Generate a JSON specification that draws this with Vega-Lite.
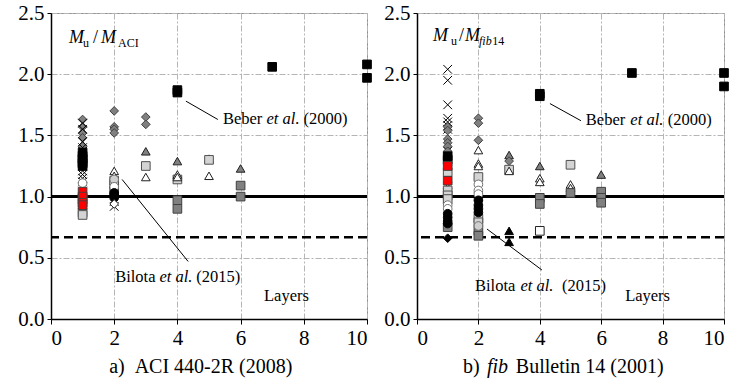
{
  "$schema": "https://vega.github.io/schema/vega-lite/v6.json",
  "background": "white",
  "padding": {"left": 17, "top": 1, "right": 5, "bottom": 5},
  "spacing": 9,
  "config": {
    "view": {"stroke": "#909090", "strokeWidth": 1},
    "font": "Liberation Serif, Times New Roman, serif",
    "text": {"font": "Liberation Serif, Times New Roman, serif"},
    "axis": {"labelFont": "Liberation Serif, Times New Roman, serif", "labelFontSize": 21, "labelColor": "black", "domainColor": "black", "domainWidth": 1.5, "tickColor": "black", "tickSize": 5, "gridColor": "#b5b5b5", "gridDash": [6, 2, 2, 2], "gridWidth": 1, "title": null}
  },
  "datasets": {
    "pts": [
      {"panel": "a", "layers": 1, "ratio": 1.63, "type": "gd"},
      {"panel": "a", "layers": 1, "ratio": 1.57, "type": "gd"},
      {"panel": "a", "layers": 1, "ratio": 1.52, "type": "gd"},
      {"panel": "a", "layers": 1, "ratio": 1.48, "type": "gd"},
      {"panel": "a", "layers": 1, "ratio": 1.41, "type": "gd"},
      {"panel": "a", "layers": 1, "ratio": 1.6, "type": "x"},
      {"panel": "a", "layers": 1, "ratio": 1.55, "type": "x"},
      {"panel": "a", "layers": 1, "ratio": 1.45, "type": "x"},
      {"panel": "a", "layers": 1, "ratio": 1.4, "type": "x"},
      {"panel": "a", "layers": 1, "ratio": 1.37, "type": "x"},
      {"panel": "a", "layers": 1, "ratio": 1.33, "type": "x"},
      {"panel": "a", "layers": 1, "ratio": 1.29, "type": "x"},
      {"panel": "a", "layers": 1, "ratio": 1.25, "type": "x"},
      {"panel": "a", "layers": 1, "ratio": 1.21, "type": "x"},
      {"panel": "a", "layers": 1, "ratio": 1.18, "type": "x"},
      {"panel": "a", "layers": 1, "ratio": 1.15, "type": "x"},
      {"panel": "a", "layers": 1, "ratio": 1.12, "type": "x"},
      {"panel": "a", "layers": 1, "ratio": 0.98, "type": "x"},
      {"panel": "a", "layers": 1, "ratio": 1.36, "type": "bs"},
      {"panel": "a", "layers": 1, "ratio": 1.33, "type": "bs"},
      {"panel": "a", "layers": 1, "ratio": 1.31, "type": "bs"},
      {"panel": "a", "layers": 1, "ratio": 1.29, "type": "bs"},
      {"panel": "a", "layers": 1, "ratio": 1.27, "type": "bs"},
      {"panel": "a", "layers": 1, "ratio": 1.25, "type": "bs"},
      {"panel": "a", "layers": 1, "ratio": 1.11, "type": "wc"},
      {"panel": "a", "layers": 1, "ratio": 0.98, "type": "lgs"},
      {"panel": "a", "layers": 1, "ratio": 0.87, "type": "lgs"},
      {"panel": "a", "layers": 1, "ratio": 0.85, "type": "lgs"},
      {"panel": "a", "layers": 1, "ratio": 1.04, "type": "rs"},
      {"panel": "a", "layers": 1, "ratio": 1.0, "type": "rs"},
      {"panel": "a", "layers": 1, "ratio": 0.95, "type": "rs"},
      {"panel": "a", "layers": 1, "ratio": 0.93, "type": "rs"},
      {"panel": "a", "layers": 2, "ratio": 1.7, "type": "gd"},
      {"panel": "a", "layers": 2, "ratio": 1.57, "type": "gd"},
      {"panel": "a", "layers": 2, "ratio": 1.55, "type": "gd"},
      {"panel": "a", "layers": 2, "ratio": 1.52, "type": "gd"},
      {"panel": "a", "layers": 2, "ratio": 1.06, "type": "x"},
      {"panel": "a", "layers": 2, "ratio": 1.04, "type": "x"},
      {"panel": "a", "layers": 2, "ratio": 0.96, "type": "x"},
      {"panel": "a", "layers": 2, "ratio": 0.92, "type": "x"},
      {"panel": "a", "layers": 2, "ratio": 1.05, "type": "dgs"},
      {"panel": "a", "layers": 2, "ratio": 1.21, "type": "wt"},
      {"panel": "a", "layers": 2, "ratio": 1.17, "type": "wt"},
      {"panel": "a", "layers": 2, "ratio": 1.13, "type": "lgs"},
      {"panel": "a", "layers": 2, "ratio": 1.1, "type": "lgs"},
      {"panel": "a", "layers": 2, "ratio": 1.14, "type": "lgc"},
      {"panel": "a", "layers": 2, "ratio": 1.08, "type": "wc"},
      {"panel": "a", "layers": 2, "ratio": 1.03, "type": "bc"},
      {"panel": "a", "layers": 2, "ratio": 1.01, "type": "bc"},
      {"panel": "a", "layers": 2, "ratio": 0.99, "type": "bc"},
      {"panel": "a", "layers": 2, "ratio": 0.94, "type": "wd"},
      {"panel": "a", "layers": 3, "ratio": 1.65, "type": "gd"},
      {"panel": "a", "layers": 3, "ratio": 1.59, "type": "gd"},
      {"panel": "a", "layers": 3, "ratio": 1.37, "type": "dgt"},
      {"panel": "a", "layers": 3, "ratio": 1.25, "type": "lgs"},
      {"panel": "a", "layers": 3, "ratio": 1.16, "type": "wt"},
      {"panel": "a", "layers": 4, "ratio": 1.87, "type": "bs"},
      {"panel": "a", "layers": 4, "ratio": 1.85, "type": "bs"},
      {"panel": "a", "layers": 4, "ratio": 1.29, "type": "dgt"},
      {"panel": "a", "layers": 4, "ratio": 1.14, "type": "lgs"},
      {"panel": "a", "layers": 4, "ratio": 1.18, "type": "wt"},
      {"panel": "a", "layers": 4, "ratio": 1.16, "type": "wt"},
      {"panel": "a", "layers": 4, "ratio": 0.97, "type": "dgs"},
      {"panel": "a", "layers": 4, "ratio": 0.9, "type": "dgs"},
      {"panel": "a", "layers": 5, "ratio": 1.31, "type": "dgt"},
      {"panel": "a", "layers": 5, "ratio": 1.3, "type": "lgs"},
      {"panel": "a", "layers": 5, "ratio": 1.17, "type": "wt"},
      {"panel": "a", "layers": 6, "ratio": 1.23, "type": "dgt"},
      {"panel": "a", "layers": 6, "ratio": 1.09, "type": "dgs"},
      {"panel": "a", "layers": 6, "ratio": 1.0, "type": "dgs"},
      {"panel": "a", "layers": 7, "ratio": 2.06, "type": "bs"},
      {"panel": "a", "layers": 10, "ratio": 2.08, "type": "bs"},
      {"panel": "a", "layers": 10, "ratio": 1.97, "type": "bs"},

      {"panel": "b", "layers": 1, "ratio": 2.04, "type": "x"},
      {"panel": "b", "layers": 1, "ratio": 1.95, "type": "x"},
      {"panel": "b", "layers": 1, "ratio": 1.75, "type": "x"},
      {"panel": "b", "layers": 1, "ratio": 1.64, "type": "x"},
      {"panel": "b", "layers": 1, "ratio": 1.61, "type": "x"},
      {"panel": "b", "layers": 1, "ratio": 1.58, "type": "x"},
      {"panel": "b", "layers": 1, "ratio": 1.55, "type": "x"},
      {"panel": "b", "layers": 1, "ratio": 1.37, "type": "x"},
      {"panel": "b", "layers": 1, "ratio": 1.22, "type": "x"},
      {"panel": "b", "layers": 1, "ratio": 1.08, "type": "x"},
      {"panel": "b", "layers": 1, "ratio": 1.03, "type": "x"},
      {"panel": "b", "layers": 1, "ratio": 0.98, "type": "x"},
      {"panel": "b", "layers": 1, "ratio": 1.57, "type": "gd"},
      {"panel": "b", "layers": 1, "ratio": 1.54, "type": "gd"},
      {"panel": "b", "layers": 1, "ratio": 1.47, "type": "gd"},
      {"panel": "b", "layers": 1, "ratio": 1.44, "type": "gd"},
      {"panel": "b", "layers": 1, "ratio": 1.41, "type": "gd"},
      {"panel": "b", "layers": 1, "ratio": 1.37, "type": "gd"},
      {"panel": "b", "layers": 1, "ratio": 1.33, "type": "bs"},
      {"panel": "b", "layers": 1, "ratio": 1.3, "type": "bs"},
      {"panel": "b", "layers": 1, "ratio": 1.2, "type": "lgs"},
      {"panel": "b", "layers": 1, "ratio": 1.05, "type": "lgs"},
      {"panel": "b", "layers": 1, "ratio": 1.01, "type": "lgs"},
      {"panel": "b", "layers": 1, "ratio": 0.98, "type": "lgs"},
      {"panel": "b", "layers": 1, "ratio": 1.25, "type": "rs"},
      {"panel": "b", "layers": 1, "ratio": 1.13, "type": "rs"},
      {"panel": "b", "layers": 1, "ratio": 0.93, "type": "wc"},
      {"panel": "b", "layers": 1, "ratio": 0.9, "type": "wc"},
      {"panel": "b", "layers": 1, "ratio": 0.75, "type": "dgs"},
      {"panel": "b", "layers": 1, "ratio": 0.86, "type": "bc"},
      {"panel": "b", "layers": 1, "ratio": 0.83, "type": "bc"},
      {"panel": "b", "layers": 1, "ratio": 0.8, "type": "bc"},
      {"panel": "b", "layers": 1, "ratio": 0.78, "type": "bc"},
      {"panel": "b", "layers": 1, "ratio": 0.66, "type": "bd"},
      {"panel": "b", "layers": 2, "ratio": 1.64, "type": "gd"},
      {"panel": "b", "layers": 2, "ratio": 1.6, "type": "gd"},
      {"panel": "b", "layers": 2, "ratio": 1.46, "type": "gd"},
      {"panel": "b", "layers": 2, "ratio": 1.38, "type": "wt"},
      {"panel": "b", "layers": 2, "ratio": 1.27, "type": "wt"},
      {"panel": "b", "layers": 2, "ratio": 1.25, "type": "wt"},
      {"panel": "b", "layers": 2, "ratio": 1.0, "type": "x"},
      {"panel": "b", "layers": 2, "ratio": 0.95, "type": "x"},
      {"panel": "b", "layers": 2, "ratio": 1.16, "type": "lgs"},
      {"panel": "b", "layers": 2, "ratio": 0.82, "type": "lgs"},
      {"panel": "b", "layers": 2, "ratio": 0.79, "type": "lgs"},
      {"panel": "b", "layers": 2, "ratio": 1.1, "type": "wc"},
      {"panel": "b", "layers": 2, "ratio": 1.05, "type": "wc"},
      {"panel": "b", "layers": 2, "ratio": 1.02, "type": "wc"},
      {"panel": "b", "layers": 2, "ratio": 0.97, "type": "bc"},
      {"panel": "b", "layers": 2, "ratio": 0.93, "type": "bc"},
      {"panel": "b", "layers": 2, "ratio": 0.9, "type": "bc"},
      {"panel": "b", "layers": 2, "ratio": 0.87, "type": "bc"},
      {"panel": "b", "layers": 2, "ratio": 0.72, "type": "dgs"},
      {"panel": "b", "layers": 2, "ratio": 0.68, "type": "dgs"},
      {"panel": "b", "layers": 2, "ratio": 0.76, "type": "lgc"},
      {"panel": "b", "layers": 3, "ratio": 1.34, "type": "dgt"},
      {"panel": "b", "layers": 3, "ratio": 1.29, "type": "gd"},
      {"panel": "b", "layers": 3, "ratio": 1.22, "type": "lgs"},
      {"panel": "b", "layers": 3, "ratio": 1.21, "type": "wt"},
      {"panel": "b", "layers": 3, "ratio": 0.72, "type": "bt"},
      {"panel": "b", "layers": 3, "ratio": 0.63, "type": "bt"},
      {"panel": "b", "layers": 4, "ratio": 1.84, "type": "bs"},
      {"panel": "b", "layers": 4, "ratio": 1.82, "type": "bs"},
      {"panel": "b", "layers": 4, "ratio": 1.25, "type": "dgt"},
      {"panel": "b", "layers": 4, "ratio": 1.15, "type": "wt"},
      {"panel": "b", "layers": 4, "ratio": 1.12, "type": "wt"},
      {"panel": "b", "layers": 4, "ratio": 0.99, "type": "dgs"},
      {"panel": "b", "layers": 4, "ratio": 0.94, "type": "dgs"},
      {"panel": "b", "layers": 4, "ratio": 0.72, "type": "ws"},
      {"panel": "b", "layers": 5, "ratio": 1.26, "type": "lgs"},
      {"panel": "b", "layers": 5, "ratio": 1.1, "type": "wt"},
      {"panel": "b", "layers": 5, "ratio": 1.07, "type": "wt"},
      {"panel": "b", "layers": 5, "ratio": 1.03, "type": "dgs"},
      {"panel": "b", "layers": 6, "ratio": 1.18, "type": "dgt"},
      {"panel": "b", "layers": 6, "ratio": 1.04, "type": "dgs"},
      {"panel": "b", "layers": 6, "ratio": 0.99, "type": "dgs"},
      {"panel": "b", "layers": 6, "ratio": 0.95, "type": "dgs"},
      {"panel": "b", "layers": 7, "ratio": 2.01, "type": "bs"},
      {"panel": "b", "layers": 10, "ratio": 2.01, "type": "bs"},
      {"panel": "b", "layers": 10, "ratio": 1.9, "type": "bs"}
    ],
    "refs": [
      {"level": 1.0, "kind": "unity"},
      {"level": 0.667, "kind": "limit"}
    ],
    "leaders": [
      {"panel": "a", "x1": 4.27, "y1": 1.78, "x2": 5.28, "y2": 1.63},
      {"panel": "a", "x1": 2.25, "y1": 1.14, "x2": 4.34, "y2": 0.47},
      {"panel": "b", "x1": 4.33, "y1": 1.76, "x2": 5.34, "y2": 1.62},
      {"panel": "b", "x1": 2.28, "y1": 0.735, "x2": 4.07, "y2": 0.4}
    ],
    "labels": [
      {"panel": "a", "x": 0.57, "y": 2.255, "text": "M", "kind": "sym", "italic": true},
      {"panel": "a", "x": 1.01, "y": 2.22, "text": "u", "kind": "sub", "italic": false},
      {"panel": "a", "x": 1.33, "y": 2.255, "text": "/", "kind": "sym", "italic": false},
      {"panel": "a", "x": 1.58, "y": 2.255, "text": "M", "kind": "sym", "italic": true},
      {"panel": "a", "x": 2.12, "y": 2.22, "text": "ACI", "kind": "sub", "italic": false},
      {"panel": "a", "x": 5.44, "y": 1.59, "text": "Beber", "kind": "note", "italic": false},
      {"panel": "a", "x": 6.82, "y": 1.59, "text": "et al.", "kind": "note", "italic": true},
      {"panel": "a", "x": 7.99, "y": 1.59, "text": "(2000)", "kind": "note", "italic": false},
      {"panel": "a", "x": 2.03, "y": 0.3, "text": "Bilota", "kind": "note", "italic": false},
      {"panel": "a", "x": 3.43, "y": 0.3, "text": "et al.", "kind": "note", "italic": true},
      {"panel": "a", "x": 4.6, "y": 0.3, "text": "(2015)", "kind": "note", "italic": false},
      {"panel": "a", "x": 6.74, "y": 0.147, "text": "Layers", "kind": "note", "italic": false},
      {"panel": "a", "x": 1.84, "y": -0.44, "text": "a)\u00a0\u00a0ACI 440-2R (2008)", "kind": "cap", "italic": false},
      {"panel": "b", "x": 0.52, "y": 2.27, "text": "M", "kind": "sym", "italic": true},
      {"panel": "b", "x": 1.11, "y": 2.24, "text": "u", "kind": "sub", "italic": false},
      {"panel": "b", "x": 1.37, "y": 2.27, "text": "/", "kind": "sym", "italic": false},
      {"panel": "b", "x": 1.56, "y": 2.27, "text": "M", "kind": "sym", "italic": true},
      {"panel": "b", "x": 2.02, "y": 2.24, "text": "fib", "kind": "sub", "italic": true},
      {"panel": "b", "x": 2.45, "y": 2.24, "text": "14", "kind": "sub", "italic": false},
      {"panel": "b", "x": 5.5, "y": 1.585, "text": "Beber", "kind": "note", "italic": false},
      {"panel": "b", "x": 6.95, "y": 1.585, "text": "et al.", "kind": "note", "italic": true},
      {"panel": "b", "x": 8.17, "y": 1.585, "text": "(2000)", "kind": "note", "italic": false},
      {"panel": "b", "x": 1.89, "y": 0.23, "text": "Bilota", "kind": "note", "italic": false},
      {"panel": "b", "x": 3.37, "y": 0.23, "text": "et al.", "kind": "note", "italic": true},
      {"panel": "b", "x": 4.72, "y": 0.23, "text": "(2015)", "kind": "note", "italic": false},
      {"panel": "b", "x": 6.78, "y": 0.147, "text": "Layers", "kind": "note", "italic": false},
      {"panel": "b", "x": 1.5, "y": -0.44, "text": "b)", "kind": "cap", "italic": false},
      {"panel": "b", "x": 2.28, "y": -0.44, "text": "fib", "kind": "cap", "italic": true},
      {"panel": "b", "x": 3.22, "y": -0.44, "text": "Bulletin 14 (2001)", "kind": "cap", "italic": false}
    ]
  },
  "hconcat": [
    {
      "width": 316,
      "height": 306,
      "layer": [
        {
          "data": {"name": "refs"},
          "mark": {"type": "rule", "color": "black"},
          "encoding": {
            "y": {"field": "level", "type": "quantitative", "scale": {"domain": [0, 2.5], "nice": false}},
            "strokeWidth": {"field": "kind", "type": "nominal", "scale": {"domain": ["unity", "limit"], "range": [3, 2.5]}, "legend": null},
            "strokeDash": {"field": "kind", "type": "nominal", "scale": {"domain": ["unity", "limit"], "range": [[1, 0], [9, 5]]}, "legend": null}
          }
        },
        {
          "data": {"name": "leaders"},
          "transform": [{"filter": "datum.panel === 'a'"}],
          "mark": {"type": "rule", "color": "black", "strokeWidth": 1},
          "encoding": {
            "x": {"field": "x1", "type": "quantitative", "scale": {"domain": [0, 10], "nice": false}},
            "y": {"field": "y1", "type": "quantitative", "scale": {"domain": [0, 2.5], "nice": false}},
            "x2": {"field": "x2"},
            "y2": {"field": "y2"}
          }
        },
        {
          "data": {"name": "pts"},
          "transform": [{"filter": "datum.panel === 'a'"}],
          "mark": {"type": "point", "opacity": 1, "size": 75, "strokeWidth": 1},
          "encoding": {
            "x": {"field": "layers", "type": "quantitative", "scale": {"domain": [0, 10], "nice": false}, "axis": {"values": [0, 1, 2, 3, 4, 5, 6, 7, 8, 9, 10], "format": "d", "labelPadding": 3}},
            "y": {"field": "ratio", "type": "quantitative", "scale": {"domain": [0, 2.5], "nice": false}, "axis": {"values": [0, 0.5, 1, 1.5, 2, 2.5], "format": ".1f", "tickSize": 4, "labelPadding": 3}},
            "shape": {"field": "type", "type": "nominal", "legend": null, "scale": {"domain": ["gd", "x", "bs", "rs", "wc", "lgs", "dgs", "dgt", "wt", "bc", "bt", "lgc", "wd", "ws", "bd"], "range": ["diamond", "M-1,-1L1,1M-1,1L1,-1", "square", "square", "circle", "square", "square", "triangle-up", "triangle-up", "circle", "triangle-up", "circle", "diamond", "square", "diamond"]}},
            "fill": {"field": "type", "type": "nominal", "legend": null, "scale": {"domain": ["gd", "x", "bs", "rs", "wc", "lgs", "dgs", "dgt", "wt", "bc", "bt", "lgc", "wd", "ws", "bd"], "range": ["#808080", "transparent", "#000000", "#ff0000", "#ffffff", "#d4d4d4", "#808080", "#808080", "#ffffff", "#000000", "#000000", "#cfcfcf", "#ffffff", "#ffffff", "#000000"]}},
            "stroke": {"field": "type", "type": "nominal", "legend": null, "scale": {"domain": ["gd", "x", "bs", "rs", "wc", "lgs", "dgs", "dgt", "wt", "bc", "bt", "lgc", "wd", "ws", "bd"], "range": ["#404040", "#000000", "#000000", "#404040", "#707070", "#505050", "#404040", "#202020", "#202020", "#000000", "#000000", "#707070", "#202020", "#202020", "#000000"]}}
          }
        },
        {
          "data": {"name": "labels"},
          "transform": [{"filter": "datum.panel === 'a' && !datum.italic"}],
          "mark": {"type": "text", "align": "left", "baseline": "alphabetic", "font": "Liberation Serif, Times New Roman, serif", "color": "black"},
          "encoding": {
            "x": {"field": "x", "type": "quantitative", "scale": {"domain": [0, 10], "nice": false}},
            "y": {"field": "y", "type": "quantitative", "scale": {"domain": [0, 2.5], "nice": false}},
            "text": {"field": "text"},
            "size": {"field": "kind", "type": "nominal", "legend": null, "scale": {"type": "ordinal", "domain": ["sym", "sub", "note", "cap"], "range": [18, 12, 16.5, 20]}}
          }
        },
        {
          "data": {"name": "labels"},
          "transform": [{"filter": "datum.panel === 'a' && datum.italic"}],
          "mark": {"type": "text", "align": "left", "baseline": "alphabetic", "font": "Liberation Serif, Times New Roman, serif", "fontStyle": "italic", "color": "black"},
          "encoding": {
            "x": {"field": "x", "type": "quantitative", "scale": {"domain": [0, 10], "nice": false}},
            "y": {"field": "y", "type": "quantitative", "scale": {"domain": [0, 2.5], "nice": false}},
            "text": {"field": "text"},
            "size": {"field": "kind", "type": "nominal", "legend": null, "scale": {"type": "ordinal", "domain": ["sym", "sub", "note", "cap"], "range": [18, 12, 16.5, 20]}}
          }
        }
      ]
    },
    {
      "width": 307,
      "height": 306,
      "layer": [
        {
          "data": {"name": "refs"},
          "mark": {"type": "rule", "color": "black"},
          "encoding": {
            "y": {"field": "level", "type": "quantitative", "scale": {"domain": [0, 2.5], "nice": false}},
            "strokeWidth": {"field": "kind", "type": "nominal", "scale": {"domain": ["unity", "limit"], "range": [3, 2.5]}, "legend": null},
            "strokeDash": {"field": "kind", "type": "nominal", "scale": {"domain": ["unity", "limit"], "range": [[1, 0], [9, 5]]}, "legend": null}
          }
        },
        {
          "data": {"name": "leaders"},
          "transform": [{"filter": "datum.panel === 'b'"}],
          "mark": {"type": "rule", "color": "black", "strokeWidth": 1},
          "encoding": {
            "x": {"field": "x1", "type": "quantitative", "scale": {"domain": [0, 10], "nice": false}},
            "y": {"field": "y1", "type": "quantitative", "scale": {"domain": [0, 2.5], "nice": false}},
            "x2": {"field": "x2"},
            "y2": {"field": "y2"}
          }
        },
        {
          "data": {"name": "pts"},
          "transform": [{"filter": "datum.panel === 'b'"}],
          "mark": {"type": "point", "opacity": 1, "size": 75, "strokeWidth": 1},
          "encoding": {
            "x": {"field": "layers", "type": "quantitative", "scale": {"domain": [0, 10], "nice": false}, "axis": {"values": [0, 1, 2, 3, 4, 5, 6, 7, 8, 9, 10], "format": "d", "labelPadding": 3}},
            "y": {"field": "ratio", "type": "quantitative", "scale": {"domain": [0, 2.5], "nice": false}, "axis": {"values": [0, 0.5, 1, 1.5, 2, 2.5], "format": ".1f", "tickSize": 4, "labelPadding": 3}},
            "shape": {"field": "type", "type": "nominal", "legend": null, "scale": {"domain": ["gd", "x", "bs", "rs", "wc", "lgs", "dgs", "dgt", "wt", "bc", "bt", "lgc", "wd", "ws", "bd"], "range": ["diamond", "M-1,-1L1,1M-1,1L1,-1", "square", "square", "circle", "square", "square", "triangle-up", "triangle-up", "circle", "triangle-up", "circle", "diamond", "square", "diamond"]}},
            "fill": {"field": "type", "type": "nominal", "legend": null, "scale": {"domain": ["gd", "x", "bs", "rs", "wc", "lgs", "dgs", "dgt", "wt", "bc", "bt", "lgc", "wd", "ws", "bd"], "range": ["#808080", "transparent", "#000000", "#ff0000", "#ffffff", "#d4d4d4", "#808080", "#808080", "#ffffff", "#000000", "#000000", "#cfcfcf", "#ffffff", "#ffffff", "#000000"]}},
            "stroke": {"field": "type", "type": "nominal", "legend": null, "scale": {"domain": ["gd", "x", "bs", "rs", "wc", "lgs", "dgs", "dgt", "wt", "bc", "bt", "lgc", "wd", "ws", "bd"], "range": ["#404040", "#000000", "#000000", "#404040", "#707070", "#505050", "#404040", "#202020", "#202020", "#000000", "#000000", "#707070", "#202020", "#202020", "#000000"]}}
          }
        },
        {
          "data": {"name": "labels"},
          "transform": [{"filter": "datum.panel === 'b' && !datum.italic"}],
          "mark": {"type": "text", "align": "left", "baseline": "alphabetic", "font": "Liberation Serif, Times New Roman, serif", "color": "black"},
          "encoding": {
            "x": {"field": "x", "type": "quantitative", "scale": {"domain": [0, 10], "nice": false}},
            "y": {"field": "y", "type": "quantitative", "scale": {"domain": [0, 2.5], "nice": false}},
            "text": {"field": "text"},
            "size": {"field": "kind", "type": "nominal", "legend": null, "scale": {"type": "ordinal", "domain": ["sym", "sub", "note", "cap"], "range": [16, 11, 16.5, 20]}}
          }
        },
        {
          "data": {"name": "labels"},
          "transform": [{"filter": "datum.panel === 'b' && datum.italic"}],
          "mark": {"type": "text", "align": "left", "baseline": "alphabetic", "font": "Liberation Serif, Times New Roman, serif", "fontStyle": "italic", "color": "black"},
          "encoding": {
            "x": {"field": "x", "type": "quantitative", "scale": {"domain": [0, 10], "nice": false}},
            "y": {"field": "y", "type": "quantitative", "scale": {"domain": [0, 2.5], "nice": false}},
            "text": {"field": "text"},
            "size": {"field": "kind", "type": "nominal", "legend": null, "scale": {"type": "ordinal", "domain": ["sym", "sub", "note", "cap"], "range": [16, 11, 16.5, 20]}}
          }
        }
      ]
    }
  ]
}
